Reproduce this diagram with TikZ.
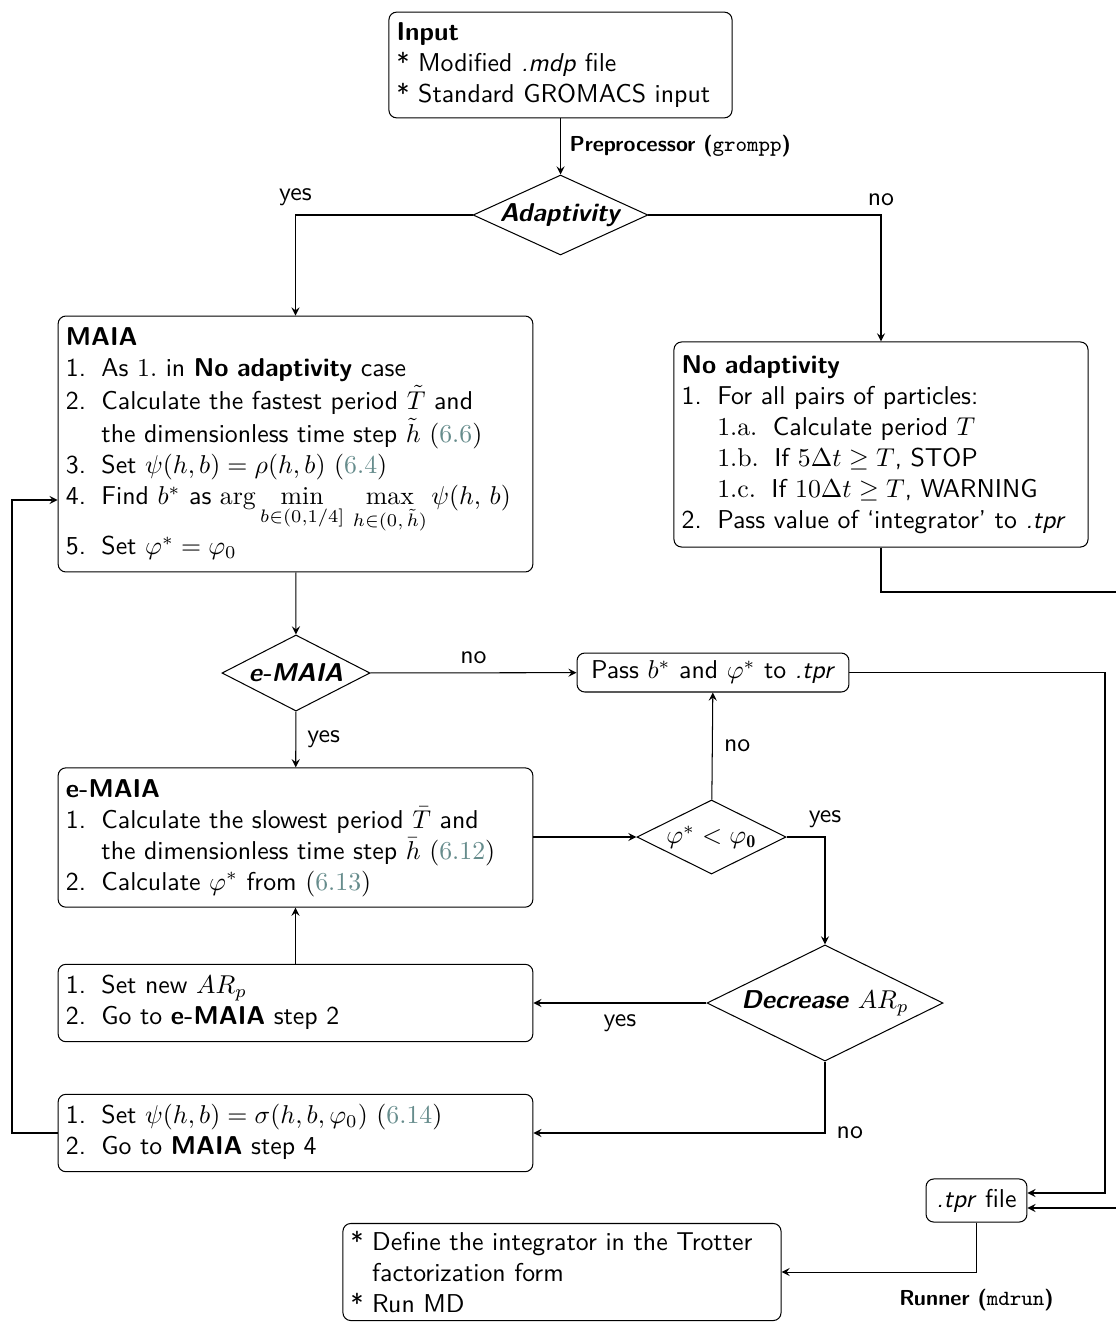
\documentclass[tikz,border=0pt]{standalone}
\usepackage{amsmath}
\usepackage{fontspec}
\usepackage[usenames]{xcolor}
\usepackage{tikz}
\usetikzlibrary{shapes.geometric}
\renewcommand{\familydefault}{\sfdefault}
\definecolor{eqlink}{rgb}{0.40,0.55,0.55}
\newcommand{\eqnum}[1]{$(\textcolor{eqlink}{#1})$}
\newcommand{\stepfont}{\fontsize{8.4}{10}\selectfont\bfseries}

\begin{document}
\begin{tikzpicture}[>=stealth, x=0.3876pt, y=-0.3876pt]
	\tikzstyle{every node}=[align=center]
	\tikzstyle{block}=[draw, rounded corners=3pt, inner sep=3pt, align=left]
	\tikzstyle{decision}=[draw, diamond, inner sep=0pt]
	\tikzstyle{conn}=[->]
	\useasboundingbox (0,0) rectangle (1116,1322);
	\clip (0,0) rectangle (1116,1322);

	\node[block, text width=127pt, minimum height=41pt] (input) at (560.5,65)
		{\textbf{Input}\\ {*} Modified \textit{.mdp} file\\ {*} Standard GROMACS input};
	\node[decision, aspect=2.19, minimum width=67.8pt, minimum height=31pt] (adapt) at (560.5,215)
		{\textbf{\textit{Adaptivity}}};
	\node[block, text width=178pt, minimum height=97.7pt] (maia) at (295.5,444) {%
		\begin{tabular}{@{}l@{\hspace{0.6em}}l@{}}
			\multicolumn{2}{@{}l}{\textbf{MAIA}}\\
			1. & As $1.$ in \textbf{No adaptivity} case\\
			2. & Calculate the fastest period $\tilde{T}$ and\\
			   & the dimensionless time step $\tilde{h}$ \eqnum{6.6}\\
			3. & Set $\psi(h,b)=\rho(h,b)$ \eqnum{6.4}\\
			4. & Find $b^*$ as $\arg\min\limits_{b\in(0,1/4]}\,\max\limits_{h\in(0,\,\tilde{h})}\psi(h,\,b)$\\
			5. & Set $\varphi^*=\varphi_0$
		\end{tabular}};
	\node[block, text width=154.5pt, minimum height=79.5pt] (noadapt) at (881,444.5) {%
		\begin{tabular}{@{}l@{\hspace{0.6em}}l@{}}
			\multicolumn{2}{@{}l}{\textbf{No adaptivity}}\\
			1. & For all pairs of particles:\\
			   & {\rmfamily 1.a.}\hspace{0.6em}Calculate period $T$\\
			   & {\rmfamily 1.b.}\hspace{0.6em}If $5\Delta t\geq T$, STOP\\
			   & {\rmfamily 1.c.}\hspace{0.6em}If $10\Delta t\geq T$, WARNING\\
			2. & Pass value of `integrator' to \textit{.tpr}
		\end{tabular}};
	\node[decision, aspect=1.95, minimum width=57.4pt, minimum height=29.5pt] (echeck) at (296,673)
		{\textbf{\textit{e-MAIA}}};
	\node[block, align=center, minimum width=105.4pt, minimum height=15.1pt] (pass) at (713,672.5)
		{Pass $b^*$ and $\varphi^*$ to \textit{.tpr}};
	\node[block, text width=178pt, minimum height=53.9pt] (emaia) at (295.5,837.5) {%
		\begin{tabular}{@{}l@{\hspace{0.6em}}l@{}}
			\multicolumn{2}{@{}l}{\textbf{e-MAIA}}\\
			1. & Calculate the slowest period $\bar{T}$ and\\
			   & the dimensionless time step $\bar{h}$ \eqnum{6.12}\\
			2. & Calculate $\varphi^*$ from \eqnum{6.13}
		\end{tabular}};
	\node[decision, aspect=2.01, minimum width=57.8pt, minimum height=28.7pt] (phicheck) at (711.5,837)
		{$\varphi^*<\varphi_{\mathbf{0}}$};
	\node[decision, aspect=2.03, minimum width=91.5pt, minimum height=45pt] (decrease) at (825,1003)
		{\textbf{\textit{Decrease}} $AR_p$};
	\node[block, text width=178pt, minimum height=28.7pt] (setnew) at (295.5,1003) {%
		\begin{tabular}{@{}l@{\hspace{0.6em}}l@{}}
			1. & Set new $AR_p$\\
			2. & Go to \textbf{e-MAIA} step 2
		\end{tabular}};
	\node[block, text width=178pt, minimum height=28.7pt] (setpsi) at (295.5,1133) {%
		\begin{tabular}{@{}l@{\hspace{0.6em}}l@{}}
			1. & Set $\psi(h,b)=\sigma(h,b,\varphi_0)$ \eqnum{6.14}\\
			2. & Go to \textbf{MAIA} step 4
		\end{tabular}};
	\node[block, align=center, minimum width=39.1pt, minimum height=16.7pt] (tpr) at (976.5,1200.5)
		{\textit{.tpr} file};
	\node[block, text width=163.8pt, minimum height=36.4pt] (run) at (562,1272)
		{{*} Define the integrator in the Trotter\\ \phantom{* }factorization form\\ {*} Run MD};

	% turning points
	\coordinate (loopin) at (12,500);
	\coordinate (passout) at (1105,1193);
	\coordinate (noadout) at (1130,592);
	\coordinate (noadin) at (1130,1208);

	\draw[conn] (input) -- node[right, font=\stepfont] {Preprocessor (\texttt{\mdseries grompp})} (adapt);
	\draw[conn] (adapt.west) -| node[pos=0.5, above=0pt] {yes} (maia.north);
	\draw[conn] (adapt.east) -| node[pos=0.5, above=0pt] {no} (noadapt.north);
	\draw[conn] (maia) -- (echeck);
	\draw[conn] (echeck) -- node[above=0pt] {no} (pass);
	\draw[conn] (echeck) -- node[right=1pt] {yes} (emaia);
	\draw[conn] (emaia.east |- phicheck) -- (phicheck);
	\draw[conn] (phicheck) -- node[right=1pt] {no} (pass);
	\draw[conn] (phicheck.east) -| node[pos=0.5, above=0pt] {yes} (decrease.north);
	\draw[conn] (decrease) -- node[below=1pt] {yes} (setnew);
	\draw[conn] (setnew) -- (emaia);
	\draw[conn] (decrease.south) |- node[pos=0.5, right=1pt] {no} (setpsi.east);
	\draw[conn] (setpsi.west) -| (loopin) -- (maia.west |- loopin);
	\draw[conn] (pass.east) -| (passout) -- (tpr.east |- passout);
	\draw[conn] (noadapt.south) |- (noadout) -- (noadin) -- (tpr.east |- noadin);
	\draw[conn] (tpr.south) |- node[pos=0.5, below=3pt, font=\stepfont] {Runner (\texttt{\mdseries mdrun})} (run.east);
\end{tikzpicture}
\end{document}
